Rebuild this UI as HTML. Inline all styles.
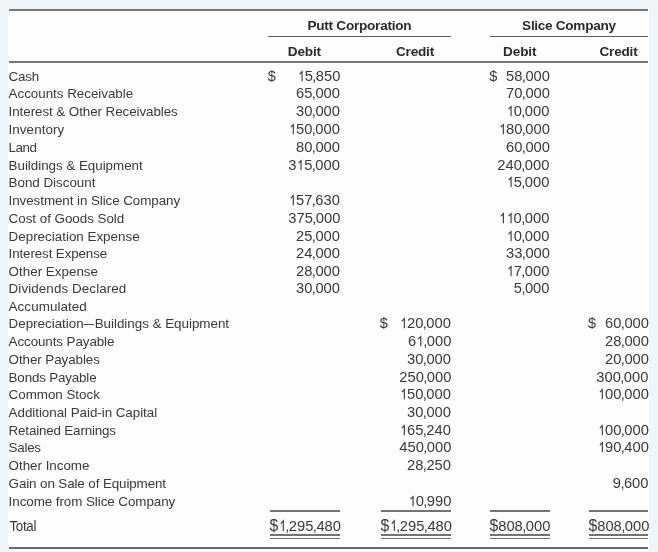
<!DOCTYPE html>
<html><head><meta charset="utf-8"><title>Trial Balance</title>
<style>
html,body{margin:0;padding:0;}
body{width:658px;height:552px;background:#f0f5fa;position:relative;overflow:hidden;font-family:"Liberation Sans",sans-serif;font-size:13.4px;color:#3a3a3a;line-height:16px;}
.sheet{position:absolute;left:8px;top:8.5px;width:640.5px;height:541px;background:#fdfdfd;}
.wrap{position:absolute;left:0;top:0;width:658px;height:552px;will-change:transform;filter:blur(0.3px);}
.ln{position:absolute;}
.t{position:absolute;white-space:nowrap;}
.n{position:absolute;white-space:nowrap;text-align:right;transform:scale(1.1,1.085);transform-origin:100% 9px;}
.em{display:inline-block;transform:scaleX(0.78);margin:0 -1.2px;}
.o{vertical-align:-3px;overflow:visible;}
.o path{fill:none;stroke:#3a3a3a;stroke-width:1.02;stroke-linejoin:miter;}
.n u{text-decoration:none;margin:0 -0.52px;}
.n b{font-weight:normal;margin-right:0px;font-size:14.3px;line-height:0;}
.d{font-size:14.5px;transform:scaleY(1.06);transform-origin:0 13px;}
.b{font-weight:bold;color:#2b2b2b;font-size:13.6px;}
</style></head><body>
<div class="sheet"></div>
<div class="wrap">

<div class="ln" style="left:8.5px;top:9.00px;width:639.8px;height:2.0px;background:#787878"></div>
<div class="ln" style="left:268.2px;top:35.60px;width:182.5px;height:1.3px;background:#5c5c5c"></div>
<div class="ln" style="left:489.5px;top:35.60px;width:158.8px;height:1.3px;background:#5c5c5c"></div>
<div class="ln" style="left:8.5px;top:61.40px;width:639.8px;height:2.0px;background:#787878"></div>
<div class="ln" style="left:8.5px;top:546.80px;width:639.8px;height:1.8px;background:#6a6a6a"></div>
<div class="ln" style="left:269.7px;top:510.10px;width:70.2px;height:1.6px;background:#737373"></div>
<div class="ln" style="left:269.7px;top:534.10px;width:70.2px;height:1.6px;background:#737373"></div>
<div class="ln" style="left:269.7px;top:537.60px;width:70.2px;height:1.6px;background:#737373"></div>
<div class="ln" style="left:380.7px;top:510.10px;width:70.2px;height:1.6px;background:#737373"></div>
<div class="ln" style="left:380.7px;top:534.10px;width:70.2px;height:1.6px;background:#737373"></div>
<div class="ln" style="left:380.7px;top:537.60px;width:70.2px;height:1.6px;background:#737373"></div>
<div class="ln" style="left:489.5px;top:510.10px;width:60.2px;height:1.6px;background:#737373"></div>
<div class="ln" style="left:489.5px;top:534.10px;width:60.2px;height:1.6px;background:#737373"></div>
<div class="ln" style="left:489.5px;top:537.60px;width:60.2px;height:1.6px;background:#737373"></div>
<div class="ln" style="left:588.8px;top:510.10px;width:59.6px;height:1.6px;background:#737373"></div>
<div class="ln" style="left:588.8px;top:534.10px;width:59.6px;height:1.6px;background:#737373"></div>
<div class="ln" style="left:588.8px;top:537.60px;width:59.6px;height:1.6px;background:#737373"></div>
<div class="t b" style="left:259.40px;top:18px;width:200px;text-align:center;letter-spacing:-0.250px">Putt Corporation</div>
<div class="t b" style="left:468.90px;top:18px;width:200px;text-align:center;letter-spacing:-0.300px">Slice Company</div>
<div class="t b" style="left:204.40px;top:44px;width:200px;text-align:center;letter-spacing:-0.150px">Debit</div>
<div class="t b" style="left:315.00px;top:44px;width:200px;text-align:center;letter-spacing:-0.200px">Credit</div>
<div class="t b" style="left:419.70px;top:44px;width:200px;text-align:center;letter-spacing:-0.150px">Debit</div>
<div class="t b" style="left:518.50px;top:44px;width:200px;text-align:center;letter-spacing:-0.200px">Credit</div>
<div class="t " style="left:8.60px;top:69px;letter-spacing:-0.240px;">Cash</div>
<div class="t d" style="left:267.75px;top:68px">$</div>
<div class="n" style="right:317.90px;top:69px;"><svg class="o" width="6.95" height="14" viewBox="0 0 6.95 14"><path d="M2.3,4.5L4.57,2.05V11"/></svg>5<u>,</u>850</div>
<div class="t d" style="left:489.35px;top:68px">$</div>
<div class="n" style="right:108.30px;top:69px;">58<u>,</u>000</div>
<div class="t " style="left:8.60px;top:86px;letter-spacing:-0.025px;">Accounts Receivable</div>
<div class="n" style="right:317.90px;top:86px;">65<u>,</u>000</div>
<div class="n" style="right:108.30px;top:86px;">70<u>,</u>000</div>
<div class="t " style="left:8.60px;top:104px;letter-spacing:-0.073px;">Interest &amp; Other Receivables</div>
<div class="n" style="right:317.90px;top:104px;">30<u>,</u>000</div>
<div class="n" style="right:108.30px;top:104px;"><svg class="o" width="6.95" height="14" viewBox="0 0 6.95 14"><path d="M2.3,4.5L4.57,2.05V11"/></svg>0<u>,</u>000</div>
<div class="t " style="left:8.60px;top:122px;letter-spacing:0.056px;">Inventory</div>
<div class="n" style="right:317.90px;top:122px;"><svg class="o" width="6.95" height="14" viewBox="0 0 6.95 14"><path d="M2.3,4.5L4.57,2.05V11"/></svg>50<u>,</u>000</div>
<div class="n" style="right:108.30px;top:122px;"><svg class="o" width="6.95" height="14" viewBox="0 0 6.95 14"><path d="M2.3,4.5L4.57,2.05V11"/></svg>80<u>,</u>000</div>
<div class="t " style="left:8.60px;top:140px;letter-spacing:-0.450px;">Land</div>
<div class="n" style="right:317.90px;top:140px;">80<u>,</u>000</div>
<div class="n" style="right:108.30px;top:140px;">60<u>,</u>000</div>
<div class="t " style="left:8.60px;top:158px;letter-spacing:-0.032px;">Buildings &amp; Equipment</div>
<div class="n" style="right:317.90px;top:158px;">3<svg class="o" width="6.95" height="14" viewBox="0 0 6.95 14"><path d="M2.3,4.5L4.57,2.05V11"/></svg>5<u>,</u>000</div>
<div class="n" style="right:108.30px;top:158px;">240<u>,</u>000</div>
<div class="t " style="left:8.60px;top:175px;letter-spacing:-0.023px;">Bond Discount</div>
<div class="n" style="right:108.30px;top:175px;"><svg class="o" width="6.95" height="14" viewBox="0 0 6.95 14"><path d="M2.3,4.5L4.57,2.05V11"/></svg>5<u>,</u>000</div>
<div class="t " style="left:8.60px;top:193px;letter-spacing:-0.073px;">Investment in Slice Company</div>
<div class="n" style="right:317.90px;top:193px;"><svg class="o" width="6.95" height="14" viewBox="0 0 6.95 14"><path d="M2.3,4.5L4.57,2.05V11"/></svg>57<u>,</u>630</div>
<div class="t " style="left:8.60px;top:211px;letter-spacing:-0.027px;">Cost of Goods Sold</div>
<div class="n" style="right:317.90px;top:211px;">375<u>,</u>000</div>
<div class="n" style="right:108.30px;top:211px;"><svg class="o" width="6.95" height="14" viewBox="0 0 6.95 14"><path d="M2.3,4.5L4.57,2.05V11"/></svg><svg class="o" width="6.95" height="14" viewBox="0 0 6.95 14"><path d="M2.3,4.5L4.57,2.05V11"/></svg>0<u>,</u>000</div>
<div class="t " style="left:8.60px;top:229px;letter-spacing:0.000px;">Depreciation Expense</div>
<div class="n" style="right:317.90px;top:229px;">25<u>,</u>000</div>
<div class="n" style="right:108.30px;top:229px;"><svg class="o" width="6.95" height="14" viewBox="0 0 6.95 14"><path d="M2.3,4.5L4.57,2.05V11"/></svg>0<u>,</u>000</div>
<div class="t " style="left:8.60px;top:246px;letter-spacing:-0.126px;">Interest Expense</div>
<div class="n" style="right:317.90px;top:246px;">24<u>,</u>000</div>
<div class="n" style="right:108.30px;top:246px;">33<u>,</u>000</div>
<div class="t " style="left:8.60px;top:264px;letter-spacing:0.008px;">Other Expense</div>
<div class="n" style="right:317.90px;top:264px;">28<u>,</u>000</div>
<div class="n" style="right:108.30px;top:264px;"><svg class="o" width="6.95" height="14" viewBox="0 0 6.95 14"><path d="M2.3,4.5L4.57,2.05V11"/></svg>7<u>,</u>000</div>
<div class="t " style="left:8.60px;top:281px;letter-spacing:0.095px;">Dividends Declared</div>
<div class="n" style="right:317.90px;top:281px;">30<u>,</u>000</div>
<div class="n" style="right:108.30px;top:281px;">5<u>,</u>000</div>
<div class="t " style="left:8.60px;top:299px;letter-spacing:0.072px;">Accumulated</div>
<div class="t " style="left:8.60px;top:316px;letter-spacing:-0.014px;">Depreciation<span class="em">—</span>Buildings &amp; Equipment</div>
<div class="t d" style="left:379.75px;top:315px">$</div>
<div class="n" style="right:206.80px;top:316px;"><svg class="o" width="6.95" height="14" viewBox="0 0 6.95 14"><path d="M2.3,4.5L4.57,2.05V11"/></svg>20<u>,</u>000</div>
<div class="t d" style="left:588.05px;top:315px">$</div>
<div class="n" style="right:9.50px;top:316px;">60<u>,</u>000</div>
<div class="t " style="left:8.60px;top:334px;letter-spacing:-0.090px;">Accounts Payable</div>
<div class="n" style="right:206.80px;top:334px;">6<svg class="o" width="6.95" height="14" viewBox="0 0 6.95 14"><path d="M2.3,4.5L4.57,2.05V11"/></svg><u>,</u>000</div>
<div class="n" style="right:9.50px;top:334px;">28<u>,</u>000</div>
<div class="t " style="left:8.60px;top:352px;letter-spacing:-0.076px;">Other Payables</div>
<div class="n" style="right:206.80px;top:352px;">30<u>,</u>000</div>
<div class="n" style="right:9.50px;top:352px;">20<u>,</u>000</div>
<div class="t " style="left:8.60px;top:370px;letter-spacing:-0.173px;">Bonds Payable</div>
<div class="n" style="right:206.80px;top:370px;">250<u>,</u>000</div>
<div class="n" style="right:9.50px;top:370px;">300<u>,</u>000</div>
<div class="t " style="left:8.60px;top:387px;letter-spacing:-0.024px;">Common Stock</div>
<div class="n" style="right:206.80px;top:387px;"><svg class="o" width="6.95" height="14" viewBox="0 0 6.95 14"><path d="M2.3,4.5L4.57,2.05V11"/></svg>50<u>,</u>000</div>
<div class="n" style="right:9.50px;top:387px;"><svg class="o" width="6.95" height="14" viewBox="0 0 6.95 14"><path d="M2.3,4.5L4.57,2.05V11"/></svg>00<u>,</u>000</div>
<div class="t " style="left:8.60px;top:405px;letter-spacing:-0.043px;">Additional Paid-in Capital</div>
<div class="n" style="right:206.80px;top:405px;">30<u>,</u>000</div>
<div class="t " style="left:8.60px;top:423px;letter-spacing:-0.174px;">Retained Earnings</div>
<div class="n" style="right:206.80px;top:423px;"><svg class="o" width="6.95" height="14" viewBox="0 0 6.95 14"><path d="M2.3,4.5L4.57,2.05V11"/></svg>65<u>,</u>240</div>
<div class="n" style="right:9.50px;top:423px;"><svg class="o" width="6.95" height="14" viewBox="0 0 6.95 14"><path d="M2.3,4.5L4.57,2.05V11"/></svg>00<u>,</u>000</div>
<div class="t " style="left:8.60px;top:440px;letter-spacing:-0.270px;">Sales</div>
<div class="n" style="right:206.80px;top:440px;">450<u>,</u>000</div>
<div class="n" style="right:9.50px;top:440px;"><svg class="o" width="6.95" height="14" viewBox="0 0 6.95 14"><path d="M2.3,4.5L4.57,2.05V11"/></svg>90<u>,</u>400</div>
<div class="t " style="left:8.60px;top:458px;letter-spacing:-0.025px;">Other Income</div>
<div class="n" style="right:206.80px;top:458px;">28<u>,</u>250</div>
<div class="t " style="left:8.60px;top:476px;letter-spacing:-0.109px;">Gain on Sale of Equipment</div>
<div class="n" style="right:9.50px;top:476px;">9<u>,</u>600</div>
<div class="t " style="left:8.60px;top:494px;letter-spacing:-0.064px;">Income from Slice Company</div>
<div class="n" style="right:206.80px;top:494px;"><svg class="o" width="6.95" height="14" viewBox="0 0 6.95 14"><path d="M2.3,4.5L4.57,2.05V11"/></svg>0<u>,</u>990</div>
<div class="t " style="left:9.40px;top:519px;letter-spacing:-0.293px;transform:scaleY(1.14);transform-origin:0 12px">Total</div>
<div class="n" style="right:317.45px;top:519px;transform:scale(1.1,1.14);transform-origin:100% 12px"><b>$</b><svg class="o" width="6.95" height="14" viewBox="0 0 6.95 14"><path d="M2.3,4.5L4.57,2.05V11"/></svg><u>,</u>295<u>,</u>480</div>
<div class="n" style="right:206.35px;top:519px;transform:scale(1.1,1.14);transform-origin:100% 12px"><b>$</b><svg class="o" width="6.95" height="14" viewBox="0 0 6.95 14"><path d="M2.3,4.5L4.57,2.05V11"/></svg><u>,</u>295<u>,</u>480</div>
<div class="n" style="right:107.85px;top:519px;transform:scale(1.1,1.14);transform-origin:100% 12px"><b>$</b>808<u>,</u>000</div>
<div class="n" style="right:9.05px;top:519px;transform:scale(1.1,1.14);transform-origin:100% 12px"><b>$</b>808<u>,</u>000</div>
</div></body></html>
